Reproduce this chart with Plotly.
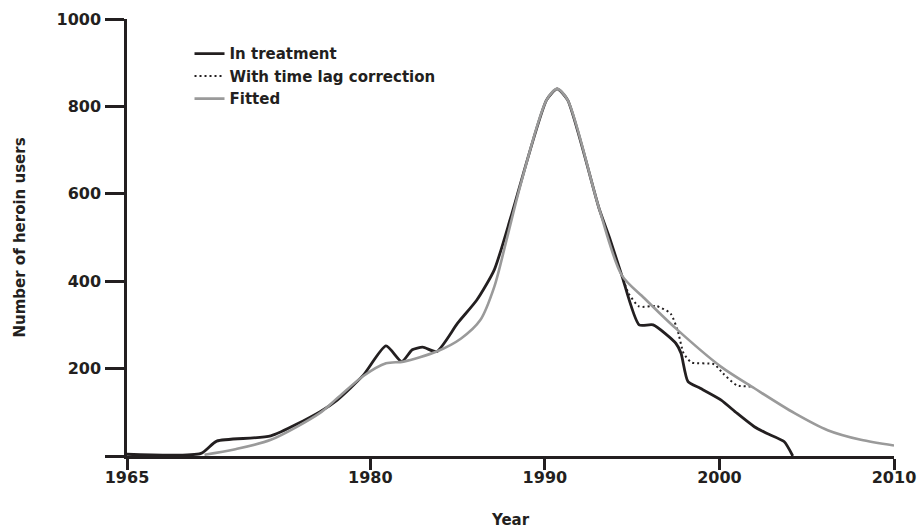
import plotly.graph_objects as go

# ---- data ----
treat_year = [1966.06, 1970.3, 1971.2, 1974.3, 1977.1, 1978.1, 1979.6, 1980.9, 1981.8, 1982.4,
              1983.0, 1983.8, 1985.0, 1986.1, 1987.1, 1988.0, 1988.2, 1990.1, 1990.7, 1991.3,
              1993.1, 1993.75, 1994.4, 1995.4, 1996.2, 1997.5, 1997.8, 1998.2, 1998.9, 2000.1,
              2001.0, 2002.0, 2002.7, 2003.7, 2004.2]
treat_val = [4, 6, 34, 46, 101, 128, 185, 252, 216, 243,
             249, 239, 304, 357, 426, 540, 567, 815, 840, 815,
             567, 494, 414, 300, 300, 258, 235, 170, 155, 128,
             98, 67, 52, 33, 0]

lag_year = [1994.4, 1994.8, 1995.4, 1996.4, 1997.2, 1997.6, 1997.95, 1998.4, 1999.7, 2000.2, 2001.0, 2001.9]
lag_val = [414, 372, 342, 343, 326, 288, 235, 214, 210, 189, 162, 159]

fit_year = [1970.5, 1972.2, 1974.3, 1977.1, 1978.1, 1979.6, 1980.9, 1981.9, 1983.8, 1985.2,
            1986.3, 1987.1, 1987.8, 1988.6, 1990.1, 1990.7, 1991.3, 1993.1, 1994.4, 1995.7,
            1997.5, 2000.1, 2002.0, 2004.3, 2006.2, 2008.1, 2010.0]
fit_val = [3, 15, 37, 98, 132, 183, 212, 216, 239, 269,
           311, 387, 494, 620, 815, 840, 815, 567, 414, 361,
           292, 204, 155, 98, 59, 37, 24]

x_tickvals = [1966.06, 1980, 1990, 2000, 2010]
x_ticktext = ["1965", "1980", "1990", "2000", "2010"]
y_tickvals = [0, 200, 400, 600, 800, 1000]
y_ticktext = ["", "200", "400", "600", "800", "1000"]

INK = "#231f20"
FONT = "DejaVu Sans"

def f(size):
    return dict(family=FONT, size=size, color=INK, weight="bold")

fig = go.Figure()
fig.add_trace(go.Scatter(x=treat_year, y=treat_val, mode="lines", name="In treatment",
                         line=dict(color=INK, width=2.8, shape="spline", smoothing=0.6)))
fig.add_trace(go.Scatter(x=lag_year, y=lag_val, mode="lines", name="With time lag correction",
                         line=dict(color=INK, width=2, dash="2px,3px", shape="spline", smoothing=0.6)))
fig.add_trace(go.Scatter(x=fit_year, y=fit_val, mode="lines", name="Fitted",
                         line=dict(color="#9a9a9a", width=2.6, shape="spline", smoothing=0.8)))

fig.update_layout(
    width=917, height=530,
    margin=dict(l=127, r=23, t=19, b=74),
    paper_bgcolor="white", plot_bgcolor="white",
    font=f(16),
    showlegend=True,
    legend=dict(x=0.0815, y=0.958, xanchor="left", yanchor="top",
                bgcolor="rgba(0,0,0,0)", font=f(15), tracegroupgap=0),
    xaxis=dict(range=[1966.06, 2010], tickmode="array", tickvals=x_tickvals, ticktext=x_ticktext,
               showgrid=False, zeroline=False, showline=True, linecolor=INK, linewidth=2.5,
               ticks="outside", ticklen=11, tickwidth=2.5, tickcolor=INK, automargin=False,
               tickfont=f(16), ticklabelstandoff=-6,
               title=dict(text="Year", font=f(15), standoff=29)),
    yaxis=dict(range=[0, 1000], tickmode="array", tickvals=y_tickvals, ticktext=y_ticktext,
               showgrid=False, zeroline=False, showline=True, linecolor=INK, linewidth=2.5,
               ticks="outside", ticklen=19, tickwidth=2.5, tickcolor=INK, automargin=False,
               tickfont=f(16), ticklabelstandoff=1,
               title=dict(text="Number of heroin users", font=f(15), standoff=28)),
)

fig.write_html("out.html", config={"displayModeBar": False},
               post_script="document.body.style.margin='0';document.body.style.padding='0';")
